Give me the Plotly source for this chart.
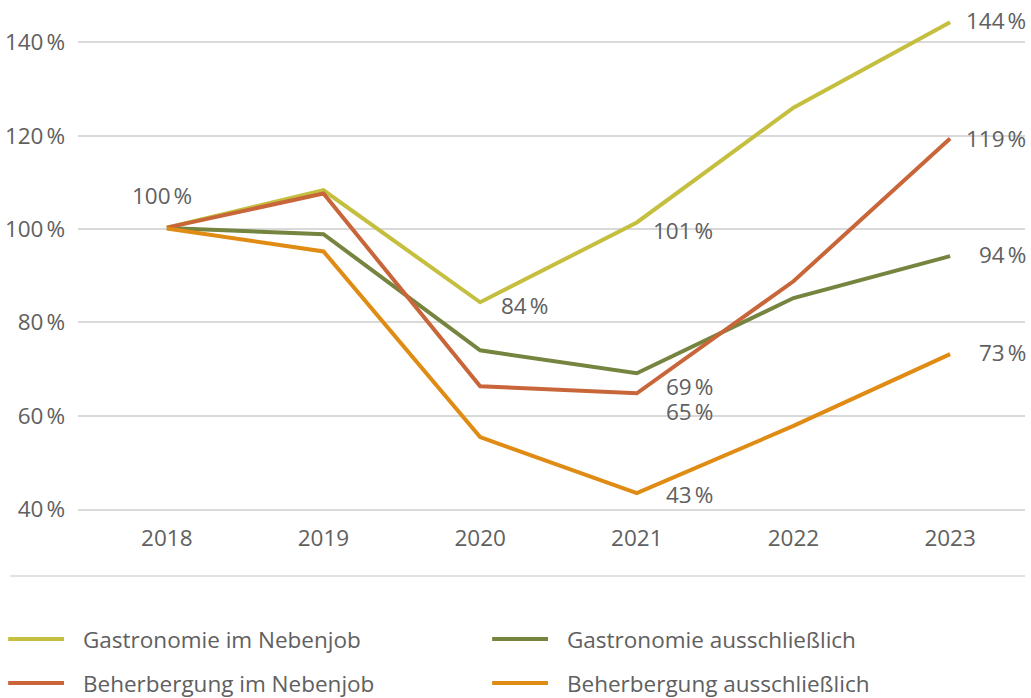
import plotly.graph_objects as go

years = [2018, 2019, 2020, 2021, 2022, 2023]
series_names = ["Gastronomie im Nebenjob", "Gastronomie ausschließlich",
                "Beherbergung im Nebenjob", "Beherbergung ausschließlich"]
gastro_neben = [100.3, 108.3, 84.3, 101.4, 126.0, 144.3]
gastro_aus = [100.2, 98.9, 74.0, 69.1, 85.2, 94.2]
beh_neben = [100.3, 107.6, 66.3, 64.8, 88.8, 119.4]
beh_aus = [100.1, 95.2, 55.4, 43.4, 57.8, 73.2]
colors = ["#c5bf3f", "#758540", "#c8663a", "#e08c14"]
y_ticks = [40, 60, 80, 100, 120, 140]

NS = "\u202f"
TXT = "#606060"
FONT = "Open Sans"
FS = 22.5

fig = go.Figure()
all_series = [gastro_neben, gastro_aus, beh_neben, beh_aus]
for name, vals, col in zip(series_names, all_series, colors):
    fig.add_trace(go.Scatter(x=years, y=vals, mode="lines", name=name,
                             line=dict(color=col, width=4), showlegend=False,
                             hoverinfo="skip"))

# geometry helpers (pixel -> paper)
W, H = 1031, 698
ml, mr, mt, mb = 76, 6, 5, 189
pw, ph = W - ml - mr, H - mt - mb
def px(x):
    return (x - ml) / pw
def py(y):
    return (H - mb - y) / ph

ann = []
def lab(x, y, val, xanchor="right", xshift=78, yshift=0):
    ann.append(dict(x=x, y=y, xref="x", yref="y", text=f"{round(val)}{NS}%",
                    showarrow=False, xanchor=xanchor, yanchor="middle",
                    xshift=xshift, yshift=yshift,
                    font=dict(family=FONT, size=FS, color=TXT)))

lab(2018, gastro_neben[0], 100, xanchor="center", xshift=-5, yshift=32)
lab(2020, gastro_neben[2], gastro_neben[2], xshift=70, yshift=-3)
lab(2021, gastro_neben[3], gastro_neben[3], yshift=-8)
lab(2021, gastro_aus[3], gastro_aus[3], yshift=-13)
lab(2021, beh_neben[3], beh_neben[3], yshift=-18)
lab(2021, beh_aus[3], beh_aus[3], yshift=-1)
for vals, ys in zip(all_series, [2, 2, 0, 2]):
    lab(2023, vals[5], vals[5], yshift=ys)

shapes = [dict(type="line", xref="paper", yref="paper", x0=px(8), x1=px(1025),
               y0=py(576), y1=py(576), line=dict(color="#d9d9d9", width=1.5))]

legend_pos = [(8, 639), (493, 639), (8, 683), (493, 683)]
for name, col, (lx, ly) in zip(series_names, colors, legend_pos):
    shapes.append(dict(type="line", xref="paper", yref="paper", x0=px(lx - 2), x1=px(lx + 54),
                       y0=py(ly), y1=py(ly), line=dict(color=col, width=4)))
    ann.append(dict(x=px(lx + 71), y=py(ly), xref="paper", yref="paper", text=name,
                    showarrow=False, xanchor="left", yanchor="middle",
                    font=dict(family=FONT, size=FS, color=TXT)))

fig.update_layout(
    width=W, height=H,
    margin=dict(l=ml, r=mr, t=mt, b=mb),
    paper_bgcolor="white", plot_bgcolor="white",
    font=dict(family=FONT, size=FS, color=TXT),
    xaxis=dict(range=[2017.433, 2023.478], tickvals=years, ticktext=[str(y) for y in years],
               showgrid=False, zeroline=False, showline=True, linecolor="#d9d9d9", linewidth=1.5,
               ticks="", ticklabelstandoff=8, tickfont=dict(family=FONT, size=FS, color=TXT)),
    yaxis=dict(range=[40, 148], tickvals=y_ticks, ticktext=[f"{v}{NS}%" for v in y_ticks],
               showgrid=True, gridcolor="#d9d9d9", gridwidth=1.5, zeroline=False,
               ticks="", ticklabelstandoff=12, tickfont=dict(family=FONT, size=FS, color=TXT)),
    annotations=ann, shapes=shapes,
)

fig.write_html("out.html", config={"displayModeBar": False},
               post_script="document.body.style.margin='0';document.body.style.overflow='hidden';")
